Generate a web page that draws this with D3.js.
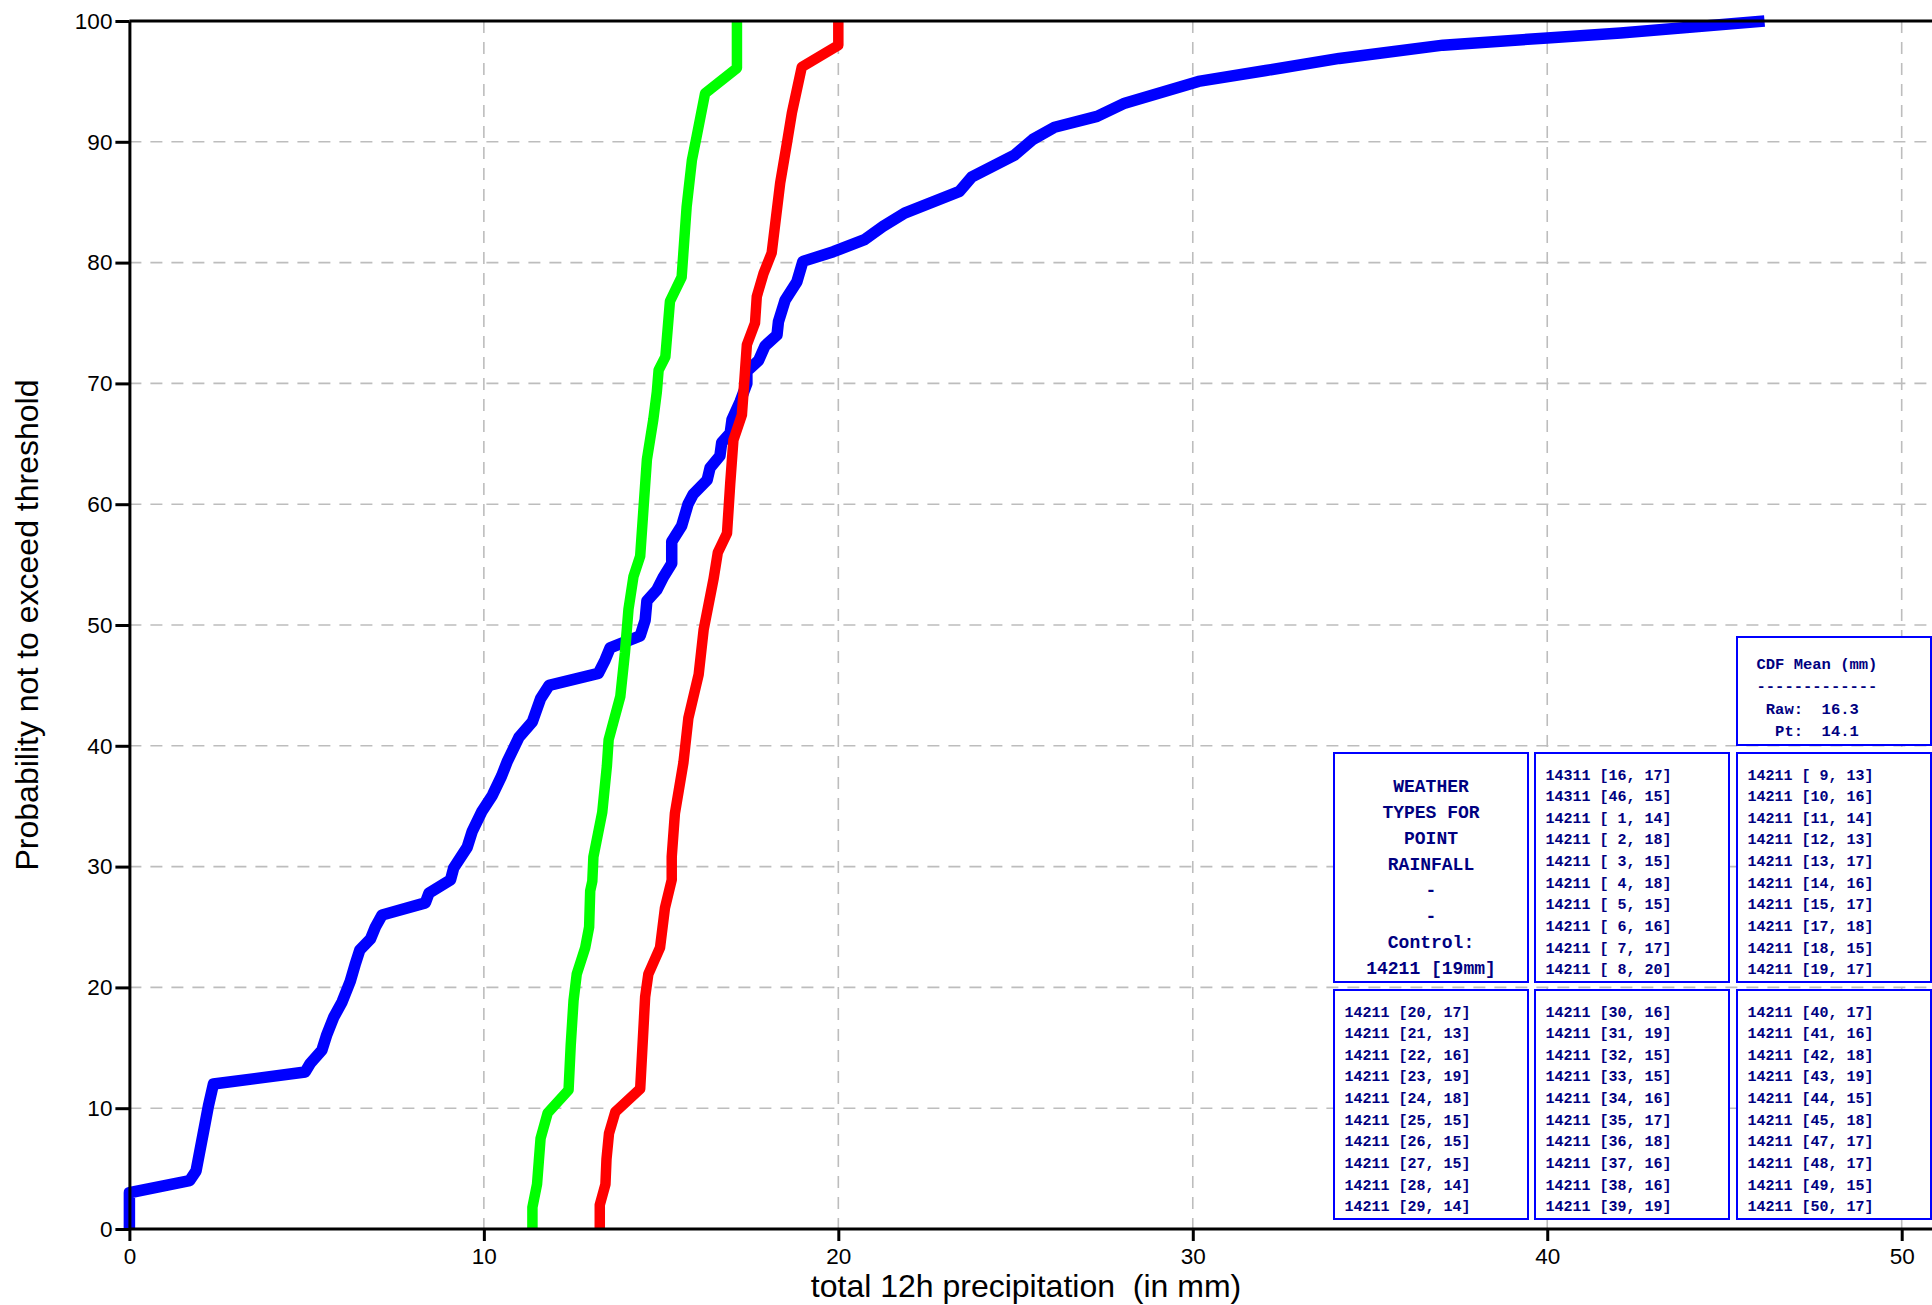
<!DOCTYPE html>
<html>
<head>
<meta charset="utf-8">
<script src="https://cdn.jsdelivr.net/npm/d3@7"></script>
<style>
  html, body { margin: 0; padding: 0; background: #fff; }
  svg { display: block; }
</style>
</head>
<body>
<svg id="chart" width="1932" height="1305"></svg>
<script>
// ---------- data ----------
const xTicks = [0, 10, 20, 30, 40, 50];
const yTicks = [0, 10, 20, 30, 40, 50, 60, 70, 80, 90, 100];
const xGrid = [10, 20, 30, 40, 50];
const yGrid = [10, 20, 30, 40, 50, 60, 70, 80, 90];

const xTitle = "total 12h precipitation  (in mm)";
const yTitle = "Probability not to exceed threshold";

// Raw CDF (blue)
const rawX = [0, 0, 1.7, 1.88, 2.14, 2.23, 2.37, 4.96, 5.1, 5.43, 5.57, 5.76, 6.0, 6.23, 6.38, 6.5, 6.8, 6.94, 7.13, 8.35, 8.45, 9.06, 9.15, 9.53, 9.67, 9.95, 10.24, 10.5, 10.66, 10.99, 11.37, 11.6, 11.84, 13.23, 13.42, 13.56, 14.41, 14.55, 14.6, 14.88, 15.07, 15.3, 15.3, 15.58, 15.76, 15.9, 16.3, 16.38, 16.66, 16.71, 16.95, 17.0, 17.23, 17.42, 17.42, 17.75, 17.93, 18.27, 18.31, 18.5, 18.83, 19.0, 19.86, 20.74, 21.26, 21.87, 23.42, 23.77, 24.97, 25.49, 26.1, 27.3, 28.08, 30.16, 32.06, 34.13, 37.06, 40.0, 42.07, 46.13];
const rawY = [0, 3, 4, 4.8, 8.8, 10.2, 12, 13, 13.7, 14.8, 16.1, 17.5, 18.8, 20.5, 22, 23.1, 24, 25, 26, 27, 27.8, 28.9, 29.9, 31.6, 32.9, 34.6, 35.9, 37.5, 38.7, 40.7, 42, 43.9, 45, 46, 47.1, 48.1, 49.1, 50.4, 52, 52.9, 54, 55.1, 56.9, 58.2, 60, 60.8, 62, 63, 64, 65.1, 65.9, 67, 68.5, 70, 71, 71.9, 73.1, 74, 75.1, 76.9, 78.4, 80.1, 80.9, 81.9, 83, 84.1, 85.9, 87.1, 88.9, 90.2, 91.2, 92.1, 93.2, 95, 95.9, 96.9, 98, 98.6, 99, 100];

// Point rainfall CDF (green)
const ptX = [11.37, 11.37, 11.5, 11.55, 11.6, 11.8, 12.39, 12.45, 12.53, 12.62, 12.86, 12.97, 13.0, 13.06, 13.09, 13.34, 13.47, 13.52, 13.85, 13.98, 14.08, 14.22, 14.41, 14.5, 14.6, 14.78, 14.88, 14.93, 15.12, 15.25, 15.58, 15.72, 15.87, 16.0, 16.24, 17.14, 17.14];
const ptY = [0, 1.8, 3.7, 5.6, 7.5, 9.6, 11.5, 15.2, 18.9, 21.1, 23.3, 25, 28, 28.8, 30.8, 34.5, 38.3, 40.5, 44.1, 47.7, 51.3, 54, 55.7, 59.5, 63.7, 67, 69.3, 71.1, 72.2, 76.8, 78.8, 84.6, 88.5, 90.4, 94, 96.1, 100];

// Control-based CDF (red)
const ctlX = [13.27, 13.27, 13.43, 13.46, 13.53, 13.71, 14.41, 14.55, 14.64, 14.97, 15.11, 15.3, 15.3, 15.39, 15.63, 15.77, 16.06, 16.2, 16.48, 16.6, 16.86, 16.95, 17.04, 17.28, 17.37, 17.42, 17.65, 17.7, 17.89, 18.12, 18.36, 18.55, 18.69, 18.97, 20.0, 20.0];
const ctlY = [0, 2, 3.7, 5.8, 7.9, 9.7, 11.6, 19.2, 21.1, 23.3, 26.6, 28.9, 30.8, 34.4, 38.6, 42.3, 45.9, 49.6, 53.8, 56, 57.6, 61.7, 65.3, 67.4, 71.1, 73.2, 75, 77.2, 79.1, 80.8, 86.6, 89.9, 92.4, 96.2, 98, 100];

const seriesColors = ["#0000ff", "#00ff00", "#ff0000"];

// Legend / info boxes text
const titleLines = ["WEATHER", "TYPES FOR", "POINT", "RAINFALL", "-", "-", "Control:", "14211 [19mm]"];
const cdfLines = ["CDF Mean (mm)", "-------------", " Raw:  16.3", "  Pt:  14.1"];
const memberLabels = [
  "14311 [16, 17]", "14311 [46, 15]", "14211 [ 1, 14]", "14211 [ 2, 18]", "14211 [ 3, 15]",
  "14211 [ 4, 18]", "14211 [ 5, 15]", "14211 [ 6, 16]", "14211 [ 7, 17]", "14211 [ 8, 20]",
  "14211 [ 9, 13]", "14211 [10, 16]", "14211 [11, 14]", "14211 [12, 13]", "14211 [13, 17]",
  "14211 [14, 16]", "14211 [15, 17]", "14211 [17, 18]", "14211 [18, 15]", "14211 [19, 17]",
  "14211 [20, 17]", "14211 [21, 13]", "14211 [22, 16]", "14211 [23, 19]", "14211 [24, 18]",
  "14211 [25, 15]", "14211 [26, 15]", "14211 [27, 15]", "14211 [28, 14]", "14211 [29, 14]",
  "14211 [30, 16]", "14211 [31, 19]", "14211 [32, 15]", "14211 [33, 15]", "14211 [34, 16]",
  "14211 [35, 17]", "14211 [36, 18]", "14211 [37, 16]", "14211 [38, 16]", "14211 [39, 19]",
  "14211 [40, 17]", "14211 [41, 16]", "14211 [42, 18]", "14211 [43, 19]", "14211 [44, 15]",
  "14211 [45, 18]", "14211 [47, 17]", "14211 [48, 17]", "14211 [49, 15]", "14211 [50, 17]"
];

// ---------- drawing ----------
(function () {
const svg = d3.select("#chart");
const W = 1932;
const pLeft = 129.4, pTop = 21, pBottom = 1229, pRight = W;

const x = d3.scaleLinear().domain([0, 50]).range([pLeft, 1901.7]);
const y = d3.scaleLinear().domain([0, 100]).range([pBottom, pTop]);

const sansFont = "'Liberation Sans', Arial, Helvetica, sans-serif";
const monoFont = "'Liberation Mono', 'Courier New', monospace";

// grid
const grid = svg.append("g").attr("stroke", "#bdbdbd").attr("stroke-width", 1.6).attr("stroke-dasharray", "12,9");
grid.selectAll("line.v").data(xGrid).join("line")
  .attr("class", "v")
  .attr("x1", d => x(d)).attr("x2", d => x(d))
  .attr("y1", pTop).attr("y2", pBottom);
grid.selectAll("line.h").data(yGrid).join("line")
  .attr("class", "h")
  .attr("x1", pLeft).attr("x2", pRight)
  .attr("y1", d => y(d)).attr("y2", d => y(d));

// curves
const series = [
  { xs: rawX, ys: rawY, color: seriesColors[0], w: 11.5 },
  { xs: ptX, ys: ptY, color: seriesColors[1], w: 10.5 },
  { xs: ctlX, ys: ctlY, color: seriesColors[2], w: 10.5 }
];
const line = d3.line().x(d => x(d[0])).y(d => y(d[1]));
series.forEach(s => {
  svg.append("path")
    .datum(s.xs.map((v, i) => [v, s.ys[i]]))
    .attr("d", line)
    .attr("fill", "none")
    .attr("stroke", s.color)
    .attr("stroke-width", s.w)
    .attr("stroke-linejoin", "round")
    .attr("stroke-linecap", "butt");
});

// frame lines
svg.append("line").attr("x1", pLeft).attr("x2", pRight).attr("y1", pTop).attr("y2", pTop)
  .attr("stroke", "#000").attr("stroke-width", 3);
svg.append("line").attr("x1", pLeft).attr("x2", pRight).attr("y1", pBottom).attr("y2", pBottom)
  .attr("stroke", "#000").attr("stroke-width", 3);

// axes
const yAxis = svg.append("g").attr("transform", `translate(${pLeft},0)`)
  .call(d3.axisLeft(y).tickValues(yTicks).tickSize(14).tickSizeOuter(0).tickPadding(3));
const xAxis = svg.append("g").attr("transform", `translate(0,${pBottom})`)
  .call(d3.axisBottom(x).tickValues(xTicks).tickSize(12).tickSizeOuter(0).tickPadding(7));
xAxis.select(".domain").remove();
[yAxis, xAxis].forEach(a => {
  a.selectAll(".domain").attr("stroke", "#000").attr("stroke-width", 3);
  a.selectAll(".tick line").attr("stroke", "#000").attr("stroke-width", 3);
  a.selectAll(".tick text").attr("fill", "#000").style("font-family", sansFont).style("font-size", "22.5px");
});

// axis titles
svg.append("text")
  .attr("x", 1026).attr("y", 1297)
  .attr("text-anchor", "middle")
  .style("font-family", sansFont).style("font-size", "32px").style("white-space", "pre")
  .text(xTitle);
svg.append("text")
  .attr("transform", `translate(38,${(pTop + pBottom) / 2}) rotate(-90)`)
  .attr("text-anchor", "middle")
  .style("font-family", sansFont).style("font-size", "32px")
  .text(yTitle);

// info boxes
const boxColor = "#0000ff", textColor = "#000080";
const colX = [1334, 1535, 1737];
const boxW = 194;
const rows = [{ y0: 753, h: 229 }, { y0: 990, h: 229 }];

function drawBox(x0, y0, w, h) {
  svg.append("rect").attr("x", x0).attr("y", y0).attr("width", w).attr("height", h)
    .attr("fill", "#fff").attr("stroke", boxColor).attr("stroke-width", 2);
}

// CDF mean box
drawBox(1737, 637, boxW, 108);
svg.append("g").selectAll("text").data(cdfLines).join("text")
  .attr("x", 1756.5).attr("y", (d, i) => 669 + i * 22.4)
  .style("font-family", monoFont).style("font-size", "15.5px").style("font-weight", "bold")
  .style("white-space", "pre").attr("fill", textColor)
  .text(d => d);

// title box
drawBox(colX[0], rows[0].y0, boxW, rows[0].h);
svg.append("g").selectAll("text").data(titleLines).join("text")
  .attr("x", colX[0] + boxW / 2).attr("y", (d, i) => 791.5 + i * 26)
  .attr("text-anchor", "middle")
  .style("font-family", monoFont).style("font-size", "18px").style("font-weight", "bold")
  .style("white-space", "pre").attr("fill", textColor)
  .text(d => d);

// member boxes
const boxSlots = [
  { col: 1, row: 0 }, { col: 2, row: 0 },
  { col: 0, row: 1 }, { col: 1, row: 1 }, { col: 2, row: 1 }
];
boxSlots.forEach((slot, bi) => {
  const x0 = colX[slot.col], r = rows[slot.row];
  drawBox(x0, r.y0, boxW, r.h);
  const labels = memberLabels.slice(bi * 10, bi * 10 + 10);
  svg.append("g").selectAll("text").data(labels).join("text")
    .attr("x", x0 + 10.5).attr("y", (d, i) => r.y0 + 26.5 + i * 21.65)
    .style("font-family", monoFont).style("font-size", "15px").style("font-weight", "bold")
    .style("white-space", "pre").attr("fill", textColor)
    .text(d => d);
});
})();
</script>
</body>
</html>
